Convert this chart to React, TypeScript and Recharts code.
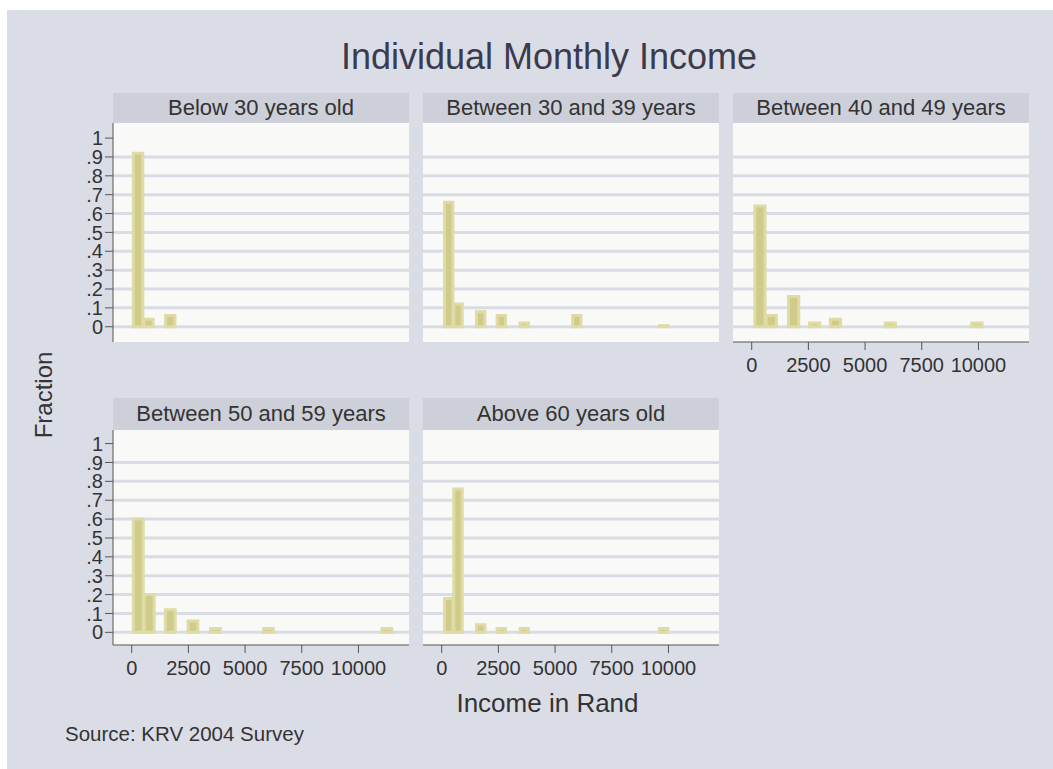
import { BarChart, Bar, XAxis, YAxis, CartesianGrid } from 'recharts';

// bar centres (Rand) and fraction per age group
const below30Income = [260, 720, 1680];
const below30Fraction = [0.92, 0.04, 0.06];

const age30to39Income = [330, 740, 1740, 2650, 3665, 5980, 9810];
const age30to39Fraction = [0.66, 0.12, 0.08, 0.06, 0.02, 0.06, 0.006];

const age40to49Income = [345, 845, 1830, 2756, 3675, 6093, 9915];
const age40to49Fraction = [0.64, 0.06, 0.16, 0.02, 0.04, 0.02, 0.02];

const age50to59Income = [270, 750, 1682, 2681, 3673, 6011, 11237];
const age50to59Fraction = [0.6, 0.2, 0.12, 0.06, 0.02, 0.02, 0.02];

const above60Income = [330, 740, 1740, 2650, 3665, 9810];
const above60Fraction = [0.18, 0.76, 0.04, 0.02, 0.02, 0.02];

const INCOME_TICKS = [0, 2500, 5000, 7500, 10000];
const FRACTION_TICKS = [0, 0.1, 0.2, 0.3, 0.4, 0.5, 0.6, 0.7, 0.8, 0.9, 1];
const GRID_VALUES = [0, 0.1, 0.2, 0.3, 0.4, 0.5, 0.6, 0.7, 0.8, 0.9];

const FONT = '"Liberation Sans", Arial, sans-serif';
const TEXT = '#333333';
const BG = '#dadde6';
const STRIP = '#cdcfd9';
const PLOT_BG = '#f9f9f7';
const GRID = '#d9dce4';
const BAR_FILL = '#cfcb8a';
const BAR_EDGE = '#dedba4';

const COL_LEFT = [113, 423, 733];
const PLOT_W = 296;
const ROWS = [
  { stripTop: 93, stripH: 30, top: 123, h: 219, domain: [-0.081, 1.08] },
  { stripTop: 398, stripH: 32, top: 430, h: 215, domain: [-0.067, 1.072] },
];
const X_DOMAIN = [-825, 12230];

type Row = { income: number; fraction: number };

const toRows = (income: number[], fraction: number[]): Row[] =>
  income.map((x, i) => ({ income: x, fraction: fraction[i] }));

const panels = [
  { title: 'Below 30 years old', data: toRows(below30Income, below30Fraction), col: 0, row: 0, showY: true, showX: false },
  { title: 'Between 30 and 39 years', data: toRows(age30to39Income, age30to39Fraction), col: 1, row: 0, showY: false, showX: false },
  { title: 'Between 40 and 49 years', data: toRows(age40to49Income, age40to49Fraction), col: 2, row: 0, showY: false, showX: true },
  { title: 'Between 50 and 59 years', data: toRows(age50to59Income, age50to59Fraction), col: 0, row: 1, showY: true, showX: true },
  { title: 'Above 60 years old', data: toRows(above60Income, above60Fraction), col: 1, row: 1, showY: false, showX: true },
];

const fmtFraction = (v: number) => (v === 0 ? '0' : v === 1 ? '1' : v.toFixed(1).replace(/^0/, ''));

type PanelProps = (typeof panels)[number];

function Panel({ title, data, col, row, showY, showX }: PanelProps) {
  const r = ROWS[row];
  const left = COL_LEFT[col];
  const tick = { fontSize: 20, fill: TEXT, fontFamily: FONT };

  return (
    <>
      <div
        style={{
          position: 'absolute',
          left,
          top: r.stripTop,
          width: PLOT_W,
          height: r.stripH,
          background: STRIP,
          color: TEXT,
          fontFamily: FONT,
          fontSize: 22,
          lineHeight: `${r.stripH}px`,
          textAlign: 'center',
          whiteSpace: 'nowrap',
        }}
      >
        {title}
      </div>
      <div style={{ position: 'absolute', left: left - 60, top: r.top }}>
        <BarChart
          width={60 + PLOT_W + 4}
          height={r.h + 50}
          data={data}
          margin={{ top: 0, right: 4, bottom: showX ? 0 : 50, left: showY ? 0 : 60 }}
        >
          <CartesianGrid
            vertical={false}
            horizontalValues={GRID_VALUES}
            fill={PLOT_BG}
            fillOpacity={1}
            stroke={GRID}
            strokeWidth={3}
          />
          <XAxis
            dataKey="income"
            type="number"
            domain={X_DOMAIN}
            allowDataOverflow
            ticks={INCOME_TICKS}
            interval={0}
            hide={!showX}
            height={50}
            tickSize={8}
            tickMargin={8}
            tick={tick}
            stroke="#555555"
          />
          <YAxis
            type="number"
            domain={r.domain}
            allowDataOverflow
            ticks={FRACTION_TICKS}
            interval={0}
            hide={!showY}
            width={60}
            tickSize={8}
            tickMargin={2}
            tick={tick}
            tickFormatter={fmtFraction}
            stroke="#555555"
          />
          <Bar
            dataKey="fraction"
            barSize={15}
            fill={BAR_FILL}
            stroke={BAR_EDGE}
            strokeWidth={3}
            isAnimationActive={false}
          />
        </BarChart>
      </div>
    </>
  );
}

export default function App() {
  return (
    <div style={{ position: 'absolute', left: 0, top: 0, width: 1053, height: 769, background: '#ffffff', overflow: 'hidden' }}>
      <div style={{ position: 'absolute', left: 7, top: 10, right: 0, bottom: 0, background: BG }} />
      <div
        style={{
          position: 'absolute',
          left: 0,
          width: 1098,
          top: 36,
          textAlign: 'center',
          fontFamily: FONT,
          fontSize: 36,
          color: '#3b3b4d',
          whiteSpace: 'nowrap',
        }}
      >
        Individual Monthly Income
      </div>
      {panels.map((p) => (
        <Panel key={p.title} {...p} />
      ))}
      <div
        style={{
          position: 'absolute',
          left: 44,
          top: 395,
          transform: 'translate(-50%, -50%) rotate(-90deg)',
          fontFamily: FONT,
          fontSize: 24,
          color: TEXT,
          whiteSpace: 'nowrap',
        }}
      >
        Fraction
      </div>
      <div
        style={{
          position: 'absolute',
          left: 0,
          width: 1095,
          top: 688,
          textAlign: 'center',
          fontFamily: FONT,
          fontSize: 26,
          color: TEXT,
          whiteSpace: 'nowrap',
        }}
      >
        Income in Rand
      </div>
      <div
        style={{
          position: 'absolute',
          left: 65,
          top: 722,
          fontFamily: FONT,
          fontSize: 20.5,
          color: TEXT,
          whiteSpace: 'nowrap',
        }}
      >
        Source: KRV 2004 Survey
      </div>
    </div>
  );
}
